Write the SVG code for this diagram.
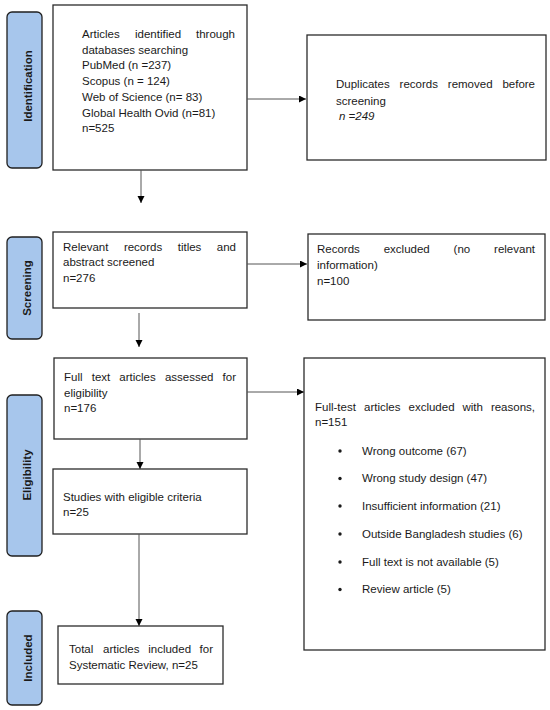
<svg xmlns="http://www.w3.org/2000/svg" width="550" height="710" viewBox="0 0 550 710">
<style>
text{font-family:"Liberation Sans",Arial,sans-serif;font-size:11.5px;fill:#1a1a1a}
.tab rect{fill:#a7c6ec;stroke:#1f1f1f;stroke-width:1.3}
.tab text{font-weight:bold;text-anchor:middle}
.box rect{fill:#fff;stroke:#2b2b2b;stroke-width:1.3}
.end{text-anchor:end}
.conn line{stroke:#555;stroke-width:1;marker-end:url(#ah)}
</style>
<defs>
<marker id="ah" markerUnits="userSpaceOnUse" markerWidth="8" markerHeight="8" refX="7" refY="3.5" orient="auto">
<path d="M0,0 L7,3.5 L0,7 z" fill="#000"/>
</marker>
</defs>
<rect width="550" height="710" fill="#fff"/>

<g id="tab-identification" class="tab">
<rect x="7" y="12" width="35" height="156" rx="5"/>
<text transform="translate(31.5,86) rotate(-90)">Identification</text>
</g>
<g id="tab-screening" class="tab">
<rect x="7" y="237" width="35" height="102" rx="5"/>
<text transform="translate(30.5,288) rotate(-90)">Screening</text>
</g>
<g id="tab-eligibility" class="tab">
<rect x="7" y="395" width="35" height="161" rx="5"/>
<text transform="translate(30.5,475) rotate(-90)">Eligibility</text>
</g>
<g id="tab-included" class="tab">
<rect x="7" y="611" width="35" height="94" rx="5"/>
<text transform="translate(31.5,658) rotate(-90)">Included</text>
</g>

<g id="box-identified" class="box">
<rect x="53" y="5" width="194" height="165"/>
<text y="38"><tspan x="82">Articles</tspan><tspan x="135">identified</tspan></text>
<text x="235" y="38" class="end">through</text>
<text x="82" y="53.7">databases searching</text>
<text x="82" y="69.4">PubMed (n =237)</text>
<text x="82" y="85.1">Scopus (n = 124)</text>
<text x="82" y="100.8">Web of Science (n= 83)</text>
<text x="82" y="116.5">Global Health Ovid (n=81)</text>
<text x="82" y="132.2">n=525</text>
</g>

<g id="box-duplicates" class="box">
<rect x="307" y="35" width="239" height="125"/>
<text y="88"><tspan x="336">Duplicates</tspan><tspan x="399.6">records</tspan><tspan x="447.8">removed</tspan></text>
<text x="535" y="88" class="end">before</text>
<text x="336" y="104.5">screening</text>
<text x="339" y="120" font-style="italic">n =249</text>
</g>

<g id="box-screened" class="box">
<rect x="53" y="232" width="194" height="76"/>
<text y="250.7"><tspan x="63">Relevant</tspan><tspan x="123.9">records</tspan><tspan x="177.7">titles</tspan></text>
<text x="236" y="250.7" class="end">and</text>
<text x="63" y="266">abstract screened</text>
<text x="63" y="281.7">n=276</text>
</g>

<g id="box-records-excluded" class="box">
<rect x="308" y="234" width="237" height="86"/>
<text y="253.3"><tspan x="317">Records</tspan><tspan x="383.7">excluded</tspan><tspan x="453.6">(no</tspan></text>
<text x="535" y="253.3" class="end">relevant</text>
<text x="317" y="269">information)</text>
<text x="317" y="284.7">n=100</text>
</g>

<g id="box-fulltext" class="box">
<rect x="54" y="358" width="193" height="81"/>
<text y="380.7"><tspan x="64">Full</tspan><tspan x="91.7">text</tspan><tspan x="119.3">articles</tspan><tspan x="164.9">assessed</tspan></text>
<text x="236" y="380.7" class="end">for</text>
<text x="64" y="397.3">eligibility</text>
<text x="64" y="412.3">n=176</text>
</g>

<g id="box-fulltext-excluded" class="box">
<rect x="304" y="358" width="241" height="292"/>
<text y="411"><tspan x="315">Full-test</tspan><tspan x="364">articles</tspan><tspan x="408.5">excluded</tspan><tspan x="462.5">with</tspan></text>
<text x="535" y="411" class="end">reasons,</text>
<text x="315" y="426.3">n=151</text>
<g fill="#1a1a1a">
<circle cx="340" cy="451" r="1.7"/>
<circle cx="340" cy="478.5" r="1.7"/>
<circle cx="340" cy="506" r="1.7"/>
<circle cx="340" cy="534" r="1.7"/>
<circle cx="340" cy="562" r="1.7"/>
<circle cx="340" cy="589.5" r="1.7"/>
</g>
<text x="362" y="454.7">Wrong outcome (67)</text>
<text x="362" y="482.3">Wrong study design (47)</text>
<text x="362" y="510">Insufficient information (21)</text>
<text x="362" y="537.7">Outside Bangladesh studies (6)</text>
<text x="362" y="565.7">Full text is not available (5)</text>
<text x="362" y="593.3">Review article (5)</text>
</g>

<g id="box-eligible" class="box">
<rect x="53" y="469" width="194" height="65"/>
<text x="63" y="500.7">Studies with eligible criteria</text>
<text x="63" y="515.7">n=25</text>
</g>

<g id="box-included" class="box">
<rect x="58" y="626" width="165" height="58"/>
<text y="653.3"><tspan x="69">Total</tspan><tspan x="103.1">articles</tspan><tspan x="148.2">included</tspan></text>
<text x="213" y="653.3" class="end">for</text>
<text x="69" y="669">Systematic Review, n=25</text>
</g>

<g id="connectors" class="conn">
<line x1="141" y1="170" x2="141" y2="203"/>
<line x1="247" y1="99" x2="306" y2="99"/>
<line x1="247" y1="264" x2="307" y2="264"/>
<line x1="139" y1="313" x2="139" y2="347"/>
<line x1="247" y1="392" x2="304" y2="392"/>
<line x1="140" y1="439" x2="140" y2="469"/>
<line x1="139" y1="534" x2="139" y2="626"/>
</g>
</svg>
